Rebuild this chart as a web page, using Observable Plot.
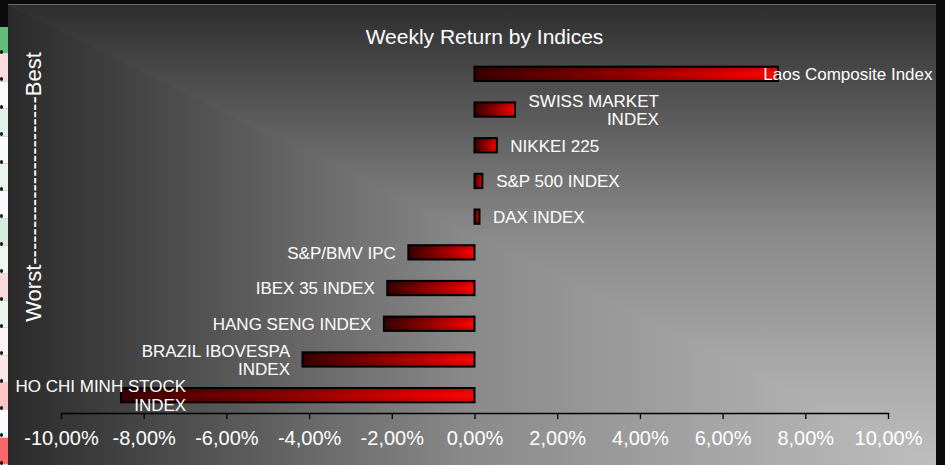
<!DOCTYPE html>
<html><head><meta charset="utf-8">
<script src="https://cdn.jsdelivr.net/npm/d3@7"></script>
<script src="https://cdn.jsdelivr.net/npm/@observablehq/plot@0.6"></script>
<style>
html,body{margin:0;padding:0;background:#0b0b0b;width:945px;height:465px;overflow:hidden;}
#wrap{position:relative;width:945px;height:465px;}
#topline{position:absolute;left:8px;top:4px;width:928px;height:1px;background:#6b6b6b}
#bg{position:absolute;left:8px;top:5px;width:928px;height:460px;background:linear-gradient(to right,#2a2a2a 0%,#8a8a8a 50%,#bebebe 100%);}
#bgv{position:absolute;left:0;top:0;width:100%;height:100%;background:linear-gradient(to bottom,#2e2e2e 0%,#8a8a8a 50%,#bebebe 100%);clip-path:polygon(0 0,100% 0,100% 100%);}
#cells{position:absolute;left:0;top:27px;width:8px;}
.cell{height:27.4px;width:8px;position:relative;box-sizing:border-box;border-bottom:1px solid #d6d6d6}
.cell span{position:absolute;left:0;top:23px;width:3px;height:4px;border-radius:50%;background:#111}
#chart{position:absolute;left:0;top:0}
</style>
</head><body>
<div id="wrap">
  <div id="topline"></div>
  <div id="bg"><div id="bgv"></div></div>
  <div id="cells"></div>
  <div id="chart"></div>
</div>
<script>
// ---- data ----
const indices = ["Laos Composite Index","SWISS MARKET INDEX","NIKKEI 225","S&P 500 INDEX","DAX INDEX","S&P/BMV IPC","IBEX 35 INDEX","HANG SENG INDEX","BRAZIL IBOVESPA INDEX","HO CHI MINH STOCK INDEX"];
const labels = ["Laos Composite Index","SWISS MARKET\nINDEX","NIKKEI 225","S&P 500 INDEX","DAX INDEX","S&P/BMV IPC","IBEX 35 INDEX","HANG SENG INDEX","BRAZIL IBOVESPA\nINDEX","HO CHI MINH STOCK\nINDEX"];
const returns = [7.34, 0.98, 0.54, 0.19, 0.12, -1.60, -2.11, -2.19, -4.16, -8.55];
const xTicks = [-10, -8, -6, -4, -2, 0, 2, 4, 6, 8, 10];
const title = "Weekly Return by Indices";
const sideLabel = "Worst" + "-".repeat(23) + "Best";
const cellColors = ["#63be7b","#fcdcdc","#fcfcff","#e3f2e8","#fafcfc","#eaf5ee","#fbfbfe","#d5ecdc","#f0f8f2","#fbdada","#ecf6ef","#fcf4f6","#fbe6e8","#fbc5c5","#fcfcff","#f86868"];

// decorative spreadsheet strip
const cells = document.getElementById("cells");
cellColors.forEach(c => {
  const d = document.createElement("div");
  d.className = "cell"; d.style.background = c;
  d.appendChild(document.createElement("span"));
  cells.appendChild(d);
});

const W = 945, H = 465, mL = 61, mR = 57, mT = 56, mB = 52;
const FONT = "'Liberation Sans', Arial, Helvetica, sans-serif";
const fmt = d => d.toFixed(2).replace(".", ",") + "%";

const xs = Plot.scale({x: {domain: [-10, 10], range: [mL, W - mR]}});
const ctx = document.createElement("canvas").getContext("2d");
ctx.font = `17px ${FONT}`;
const data = indices.map((name, i) => {
  const lines = labels[i].split("\n");
  const w = Math.max(...lines.map(l => ctx.measureText(l).width));
  const v = returns[i];
  const p = xs.apply(v);
  const right = v >= 0 ? Math.min(p + 13 + w, 932) : Math.max(p - 13, 15 + w);
  return {name, label: labels[i], value: v, lx: xs.invert(right)};
});

function defs() {
  const ns = "http://www.w3.org/2000/svg";
  const g = document.createElementNS(ns, "defs");
  g.innerHTML = `
    <linearGradient id="barGrad" x1="0" x2="1" y1="0" y2="0">
      <stop offset="0" stop-color="#3a0000"/>
      <stop offset="0.5" stop-color="#9a0000"/>
      <stop offset="0.88" stop-color="#f00000"/>
      <stop offset="1" stop-color="#ff0a0a"/>
    </linearGradient>
    <linearGradient id="barShade" x1="0" x2="0" y1="0" y2="1">
      <stop offset="0" stop-color="#000" stop-opacity="0.25"/>
      <stop offset="0.5" stop-color="#000" stop-opacity="0"/>
      <stop offset="1" stop-color="#000" stop-opacity="0.2"/>
    </linearGradient>`;
  return g;
}

const chart = Plot.plot({
  width: W, height: H,
  marginLeft: mL, marginRight: mR, marginTop: mT, marginBottom: mB,
  style: {background: "transparent", fontFamily: FONT, color: "#fff", overflow: "visible"},
  x: {domain: [-10, 10]},
  y: {domain: indices, paddingInner: 0.6, paddingOuter: 0.3, round: false, axis: null},
  marks: [
    defs,
    Plot.frame({anchor: "bottom", stroke: "#000", strokeWidth: 1.3}),
    Plot.axisX({ticks: xTicks, tickFormat: fmt, tickSize: 6, tickPadding: 11, fontSize: 20, stroke: "#000", fill: "#fff", strokeWidth: 1.3, label: null}),
    Plot.barX(data, {x1: () => 0, x2: "value", y: "name", fill: "url(#barGrad)"}),
    Plot.barX(data, {x1: () => 0, x2: "value", y: "name", fill: "url(#barShade)"}),
    Plot.barX(data, {x1: () => 0, x2: "value", y: "name", fill: "none", stroke: "#000", strokeWidth: 2}),
    Plot.text(data, {x: "lx", y: "name", text: "label", textAnchor: "end", fontSize: 17, fill: "#fff", lineHeight: 1.08}),
    Plot.text([title], {frameAnchor: "top", textAnchor: "middle", dx: 9.5, dy: -27, fontSize: 21, fill: "#fff"}),
    Plot.text([sideLabel], {frameAnchor: "left", textAnchor: "middle", rotate: -90, dx: -27.5, dy: -48, fontSize: 22, fill: "#fff"})
  ]
});
document.getElementById("chart").appendChild(chart);
</script>
</body></html>
